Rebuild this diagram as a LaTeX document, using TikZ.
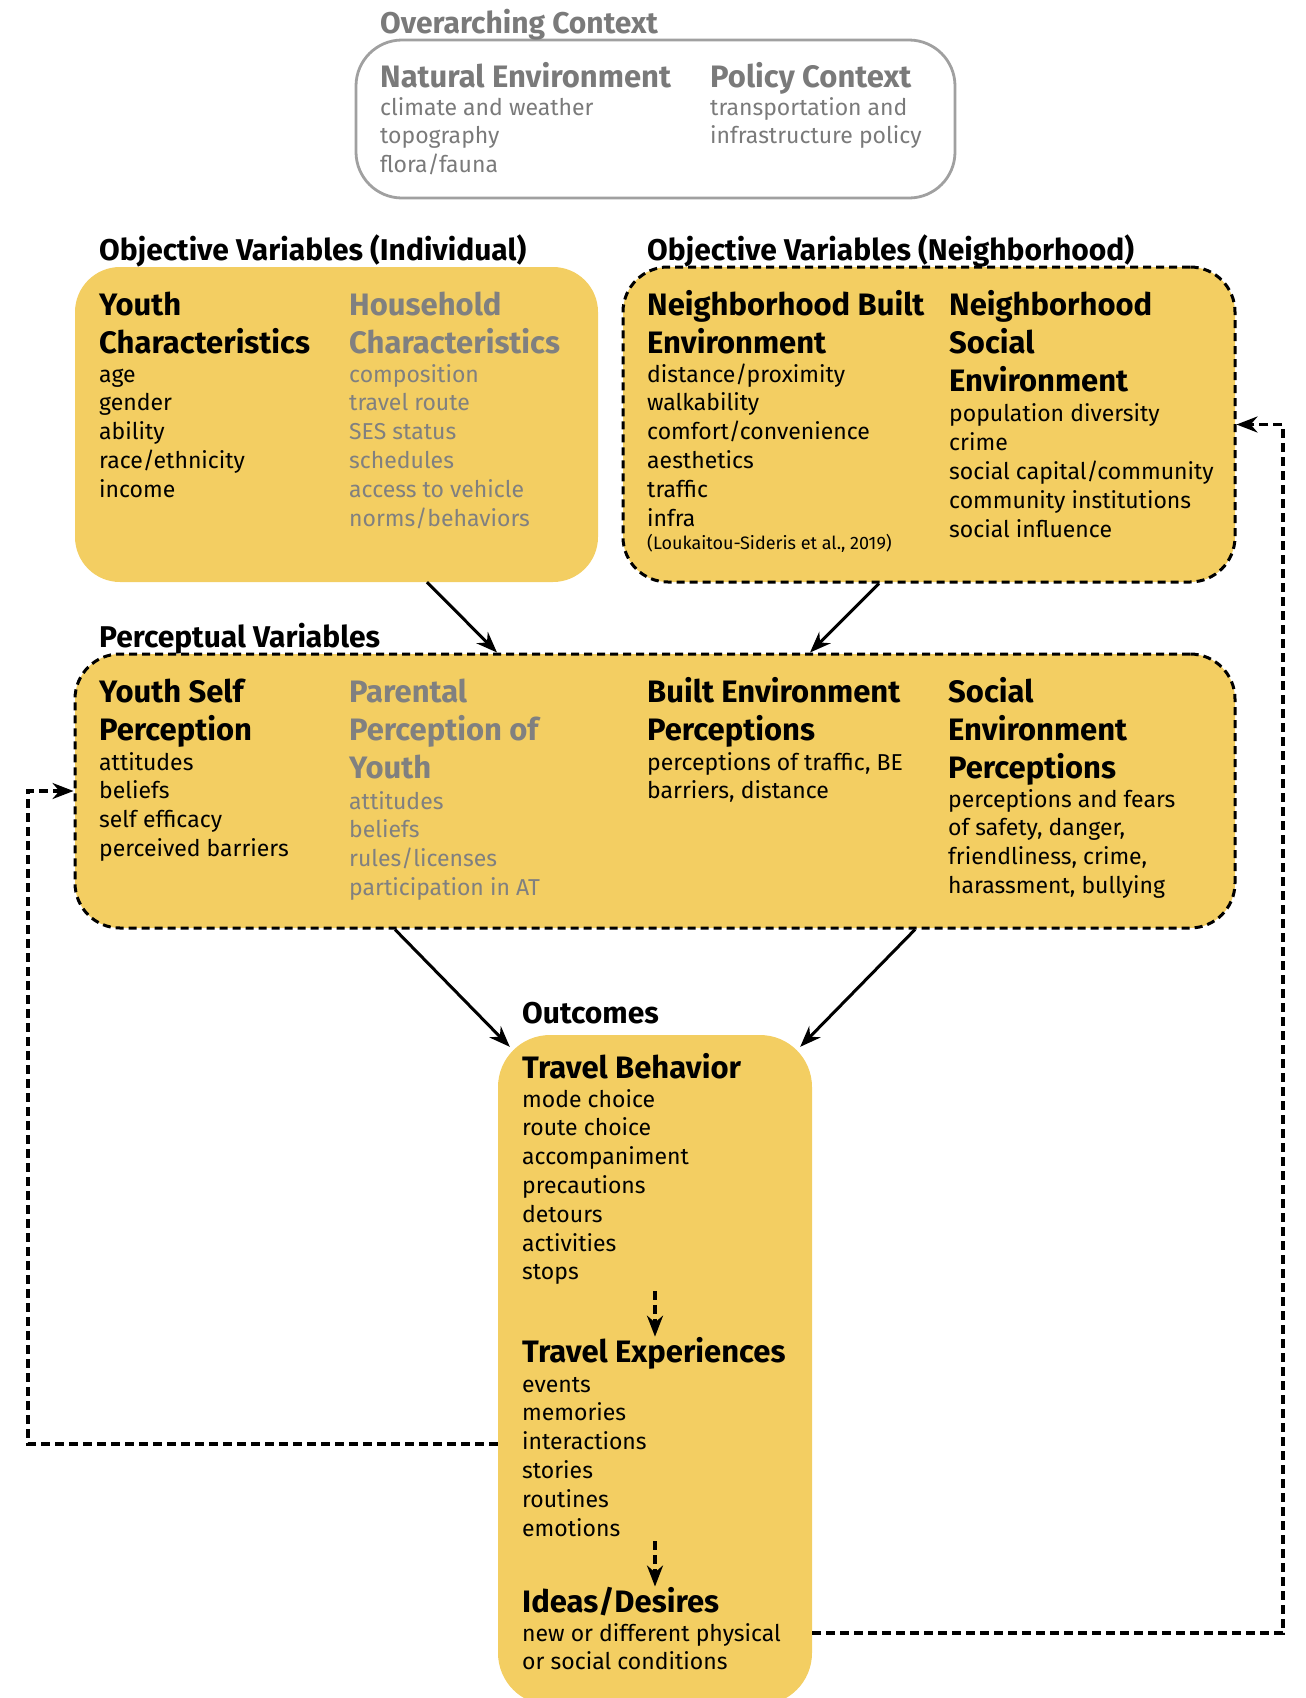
\documentclass[tikz,border=0pt]{standalone}
\usepackage{fontspec}
\setmainfont{Fira Sans}
\usepackage{xcolor}
\usetikzlibrary{arrows.meta,positioning}

\definecolor{boxyellow}{RGB}{243,206,98}
\definecolor{softgray}{RGB}{128,128,128}
\definecolor{ctxgray}{RGB}{122,122,122}
\definecolor{ctxline}{RGB}{160,160,160}

\begin{document}
\begin{tikzpicture}[
  x=1pt, y=-1pt,
  ybox/.style={fill=boxyellow, rounded corners=45pt, inner sep=0pt},
  dbox/.style={ybox, draw=black, line width=3pt, dash pattern=on 8pt off 5pt},
  cbox/.style={draw=ctxline, line width=2.8pt, rounded corners=46pt, inner sep=0pt},
  title/.style={font=\fontsize{30}{36}\selectfont\bfseries, anchor=base west, inner sep=0pt},
  head/.style={font=\fontsize{31}{38}\selectfont\bfseries, align=left, anchor=base west, inner sep=0pt},
  items/.style={font=\fontsize{23}{28.8}\selectfont, align=left, anchor=base west, inner sep=0pt},
  arr/.style={-{Stealth[length=21pt,width=16pt]}, line width=3pt},
  dloop/.style={-{Stealth[length=21pt,width=16pt]}, line width=3.2pt, dash pattern=on 9pt off 5pt}
]
  \useasboundingbox (0,0) rectangle (1306,1698);

  % Boxes
  \node[cbox, minimum width=599pt, minimum height=158pt] (ctx)   at (655.5,119) {};
  \node[ybox, minimum width=523pt, minimum height=315pt] (indiv) at (336.5,424.5) {};
  \node[dbox, minimum width=612pt, minimum height=315pt] (nbhd)  at (929,424.5) {};
  \node[dbox, minimum width=1160pt, minimum height=274pt] (perc) at (655,791) {};
  \node[ybox, rounded corners=52pt, minimum width=314pt, minimum height=670pt] (out) at (655,1370) {};

  % Overarching context (multi-line nodes sit on their last baseline)
  \node[title, text=ctxgray] (ctx-title) at (380,33) {Overarching Context};
  \node[head, text=ctxgray]  (nat-head)  at (380,87) {Natural Environment};
  \node[items, text=ctxgray] (nat-list)  at (380,172.6) {climate and weather\\topography\\flora/fauna};
  \node[head, text=ctxgray]  (pol-head)  at (710,87) {Policy Context};
  \node[items, text=ctxgray] (pol-list)  at (710,143.8) {transportation and\\infrastructure policy};

  % Objective variables, individual
  \node[title] (indiv-title) at (99,260) {Objective Variables (Individual)};
  \node[head]  (yc-head) at (99,353) {Youth\\Characteristics};
  \node[items] (yc-list) at (99,497.2) {age\\gender\\ability\\race/ethnicity\\income};
  \node[head, text=softgray]  (hh-head) at (349,353) {Household\\Characteristics};
  \node[items, text=softgray] (hh-list) at (349,526) {composition\\travel route\\SES status\\schedules\\access to vehicle\\norms/behaviors};

  % Objective variables, neighborhood
  \node[title] (nbhd-title) at (647,260) {Objective Variables (Neighborhood)};
  \node[head]  (nbe-head) at (647,353) {Neighborhood Built\\Environment};
  \node[items] (nbe-list) at (647,526) {distance/proximity\\walkability\\comfort/convenience\\aesthetics\\traffic\\infra};
  \node[items, font=\fontsize{18}{21}\selectfont] (nbe-cite) at (647,549) {(Loukaitou-Sideris et al., 2019)};
  \node[head]  (nse-head) at (949,391) {Neighborhood\\Social\\Environment};
  \node[items] (nse-list) at (949,537) {population diversity\\crime\\social capital/community\\community institutions\\social influence};

  % Perceptual variables
  \node[title] (perc-title) at (99,647) {Perceptual Variables};
  \node[head]  (ysp-head) at (99,740) {Youth Self\\Perception};
  \node[items] (ysp-list) at (99,856.4) {attitudes\\beliefs\\self efficacy\\perceived barriers};
  \node[head, text=softgray]  (ppy-head) at (349,778) {Parental\\Perception of\\Youth};
  \node[items, text=softgray] (ppy-list) at (349,895.4) {attitudes\\beliefs\\rules/licenses\\participation in AT};
  \node[head]  (bep-head) at (647,740) {Built Environment\\Perceptions};
  \node[items] (bep-list) at (647,798.8) {perceptions of traffic, BE\\barriers, distance};
  \node[head]  (sep-head) at (948,778) {Social\\Environment\\Perceptions};
  \node[items] (sep-list) at (948,893.4) {perceptions and fears\\of safety, danger,\\friendliness, crime,\\harassment, bullying};

  % Outcomes
  \node[title] (out-title) at (522,1023) {Outcomes};
  \node[head]  (tb-head) at (522,1078) {Travel Behavior};
  \node[items] (tb-list) at (522,1279.8) {mode choice\\route choice\\accompaniment\\precautions\\detours\\activities\\stops};
  \node[head]  (te-head) at (522,1362) {Travel Experiences};
  \node[items] (te-list) at (522,1536) {events\\memories\\interactions\\stories\\routines\\emotions};
  \node[head]  (id-head) at (522,1612) {Ideas/Desires};
  \node[items] (id-list) at (522,1669.8) {new or different physical\\or social conditions};

  % Loop turning points
  \coordinate (lloop) at (28,791);
  \coordinate (rloop) at (1283,424.5);

  % Paths
  \draw[arr] ([xshift=90.5pt]indiv.south) -- ([xshift=-158pt]perc.north);
  \draw[arr] ([xshift=-50pt]nbhd.south) -- ([xshift=155pt]perc.north);
  \draw[arr] ([xshift=-260pt]perc.south) -- ([xshift=12pt,yshift=-12pt]out.north west);
  \draw[arr] ([xshift=260pt]perc.south) -- ([xshift=-12pt,yshift=-12pt]out.north east);
  \draw[dloop, shorten <=6pt] (tb-list.south -| out.center) -- (te-head.north -| out.center);
  \draw[dloop, shorten <=5pt] (te-list.south -| out.center) -- (id-head.north -| out.center);
  \draw[dloop] ([yshift=-74pt]out.west) -| (lloop) -- (perc.west);
  \draw[dloop] ([yshift=-263pt]out.east) -| (rloop) -- (nbhd.east);
\end{tikzpicture}
\end{document}
